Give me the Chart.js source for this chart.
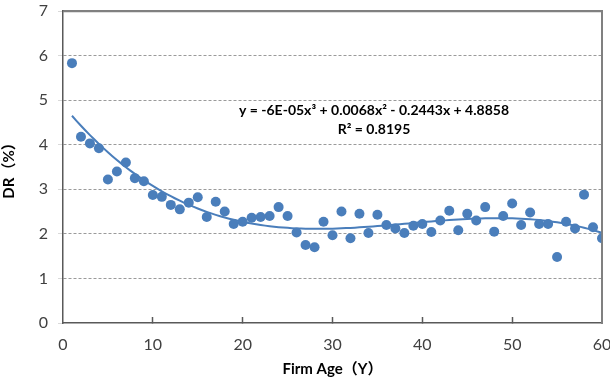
<!DOCTYPE html>
<html><head><meta charset="utf-8">
<script src="https://cdn.jsdelivr.net/npm/chart.js@4"></script>
<style>html,body{margin:0;padding:0;background:#fff}#wrap{width:610px;height:382px}</style>
</head><body><div id="wrap"><canvas id="c" width="610" height="382"></canvas></div>
<script>
const firmAge = [1,2,3,4,5,6,7,8,9,10,11,12,13,14,15,16,17,18,19,20,21,22,23,24,25,26,27,28,29,30,31,32,33,34,35,36,37,38,39,40,41,42,43,44,45,46,47,48,49,50,51,52,53,54,55,56,57,58,59,60];
const drValues = [5.83,4.18,4.03,3.92,3.22,3.40,3.60,3.25,3.18,2.87,2.83,2.65,2.55,2.70,2.82,2.38,2.72,2.50,2.22,2.27,2.36,2.38,2.40,2.60,2.40,2.03,1.75,1.70,2.27,1.97,2.50,1.90,2.45,2.02,2.43,2.20,2.12,2.02,2.18,2.22,2.04,2.30,2.52,2.08,2.45,2.30,2.60,2.05,2.40,2.68,2.20,2.48,2.22,2.22,1.48,2.27,2.12,2.88,2.15,1.90];
const xTicks = [0,10,20,30,40,50,60];
const yTicks = [0,1,2,3,4,5,6,7];
const equationLines = ["y = -6E-05x\u00B3 + 0.0068x\u00B2 - 0.2443x + 4.8858", "R\u00B2 = 0.8195"];

// least-squares cubic fit of the read data (trendline)
function polyFit(xs, ys, deg){
  const n=deg+1, A=[], b=[];
  for(let i=0;i<n;i++){A.push(new Array(n).fill(0));b.push(0);}
  for(let k=0;k<xs.length;k++){
    for(let i=0;i<n;i++){
      for(let j=0;j<n;j++) A[i][j]+=Math.pow(xs[k],i+j);
      b[i]+=ys[k]*Math.pow(xs[k],i);
    }
  }
  for(let i=0;i<n;i++){
    let p=i; for(let r=i+1;r<n;r++) if(Math.abs(A[r][i])>Math.abs(A[p][i])) p=r;
    [A[i],A[p]]=[A[p],A[i]]; [b[i],b[p]]=[b[p],b[i]];
    for(let r=i+1;r<n;r++){const f=A[r][i]/A[i][i]; for(let c=i;c<n;c++) A[r][c]-=f*A[i][c]; b[r]-=f*b[i];}
  }
  const coef=new Array(n).fill(0);
  for(let i=n-1;i>=0;i--){let s=b[i]; for(let c=i+1;c<n;c++) s-=A[i][c]*coef[c]; coef[i]=s/A[i][i];}
  return coef;
}
const coef = polyFit(firmAge, drValues, 3);
const trend = [];
for(let i=0;i<=118;i++){const x=1+i*0.5; trend.push({x, y: coef[0]+coef[1]*x+coef[2]*x*x+coef[3]*x*x*x});}

const blue = '#4a7ebb';
const FONT = "Lato, 'Noto Sans CJK SC', sans-serif";

const textPlugin = {
  id:'eqText',
  afterDraw(chart){
    const ctx = chart.ctx;
    const a = chart.chartArea;
    ctx.save();
    ctx.fillStyle='#000';
    ctx.font="bold 14px "+FONT;
    ctx.textAlign='center'; ctx.textBaseline='middle';
    ctx.fillText(equationLines[0], 374, 110);
    ctx.fillText(equationLines[1], 374, 129);
    if (a) {
      ctx.lineWidth = 1.5;
      ctx.strokeStyle = '#808080';
      ctx.setLineDash([]);
      ctx.beginPath();
      ctx.moveTo(a.left, a.top + 0.5);
      ctx.lineTo(a.right, a.top + 0.5);
      ctx.lineTo(a.right, a.bottom);
      ctx.stroke();
    }
    ctx.restore();
  }
};

new Chart(document.getElementById('c'), {
  type:'scatter',
  data:{datasets:[
    {type:'line', data:trend, borderColor:blue, borderWidth:2, pointRadius:0, fill:false, tension:0, order:2},
    {data:firmAge.map((x,i)=>({x, y:drValues[i]})), backgroundColor:blue, borderColor:blue, borderWidth:0, pointRadius:5, pointHoverRadius:5, order:1}
  ]},
  options:{
    responsive:false, animation:false, devicePixelRatio:1,
    layout:{autoPadding:false, padding:{top:11, right:8, left:0, bottom:0}},
    plugins:{legend:{display:false}, tooltip:{enabled:false}},
    scales:{
      x:{type:'linear', position:'bottom', min:0, max:60, afterBuildTicks(s){s.ticks=xTicks.map(v=>({value:v}));},
        grid:{display:true, drawOnChartArea:false, drawTicks:true, tickLength:-6, tickWidth:1.5,
              tickColor:(c)=> (c.tick && (c.tick.value===0||c.tick.value===60)) ? 'rgba(0,0,0,0)' : '#595959'},
        border:{display:true, color:'#595959', width:1.5},
        ticks:{color:'#404040', font:{family:FONT, size:16}, padding:18, maxRotation:0},
        title:{display:true, text:'Firm Age\uFF08Y\uFF09', color:'#000', font:{family:FONT, size:15, weight:'bold'}, padding:{top:0,bottom:4}},
        afterFit(s){s.height=59; s.paddingLeft=0; s.paddingRight=0;}
      },
      xTop:{type:'linear', position:'top', display:true, min:0, max:60,
        grid:{display:false}, ticks:{display:false},
        border:{display:true, color:'#808080', width:2},
        afterFit(s){s.height=0; s.paddingLeft=0; s.paddingRight=0;}
      },
      y:{min:0, max:7, position:'left', afterBuildTicks(s){s.ticks=yTicks.map(v=>({value:v}));},
        grid:{color:(c)=> (c.tick && (c.tick.value===0||c.tick.value===7)) ? 'rgba(0,0,0,0)' : '#9a9a9a', lineWidth:1, tickLength:5, tickColor:'#d9d9d9', drawTicks:true},
        border:{display:true, color:'#595959', width:1.5, dash:[3,2]},
        ticks:{color:'#404040', font:{family:FONT, size:16}, padding:10},
        title:{display:true, text:'DR\uFF08%\uFF09', color:'#000', font:{family:FONT, size:15, weight:'bold'}, padding:{top:0,bottom:4}},
        afterFit(s){s.width=63; s.paddingTop=0; s.paddingBottom=0;}
      },
      yRight:{min:0, max:7, position:'right', display:true,
        grid:{display:false}, ticks:{display:false},
        border:{display:true, color:'#808080', width:2},
        afterFit(s){s.width=0; s.paddingTop=0; s.paddingBottom=0;}
      }
    }
  },
  plugins:[textPlugin]
});
</script></body></html>
